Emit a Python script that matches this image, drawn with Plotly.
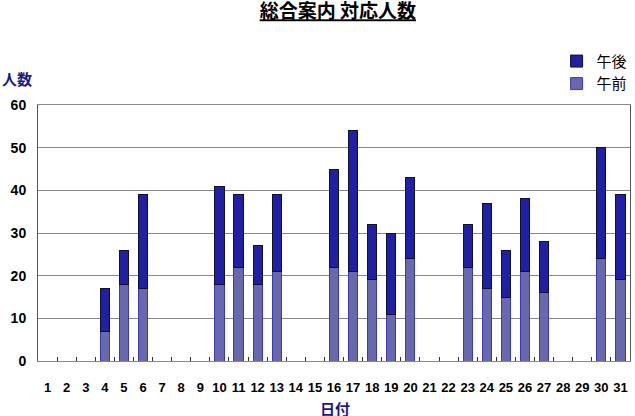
import plotly.graph_objects as go

days = [str(d) for d in range(1, 32)]
# 午前 (morning) and 午後 (afternoon) counts per day, 0 where no bar
am = [0, 0, 0, 7, 18, 17, 0, 0, 0, 18, 22, 18, 21, 0, 0, 22, 21, 19, 11, 24,
      0, 0, 22, 17, 15, 21, 16, 0, 0, 24, 19]
pm = [0, 0, 0, 10, 8, 22, 0, 0, 0, 23, 17, 9, 18, 0, 0, 23, 33, 13, 19, 19,
      0, 0, 10, 20, 11, 17, 12, 0, 0, 26, 20]

font_family = "Liberation Sans, Noto Sans CJK JP, sans-serif"
jp_font = "Noto Sans CJK JP"
navy = "#1a1a8c"

fig = go.Figure()
fig.add_trace(go.Bar(x=days, y=am, name="午前", legendgroup="am",
                     marker=dict(color="#6868ac", line=dict(color="#3a3ab8", width=1))))
fig.add_trace(go.Bar(x=days, y=pm, name="午後", legendgroup="pm",
                     marker=dict(color="#2020a4", line=dict(color="#101030", width=1))))

fig.update_layout(
    barmode="stack",
    bargap=0.52,
    width=635, height=416,
    margin=dict(l=38, r=2, t=105, b=55),
    plot_bgcolor="white",
    paper_bgcolor="white",
    font=dict(family=font_family, color="black"),
    title=dict(text="<b>総合案内 対応人数</b>", x=0.532, xanchor="center",
               y=0.972, yanchor="middle",
               font=dict(size=19, family=jp_font, lineposition="under")),
    legend=dict(traceorder="reversed", x=0.876, xanchor="left", y=1.235, yanchor="top",
                font=dict(size=15, family=jp_font),
                itemwidth=30, tracegroupgap=4, bgcolor="rgba(0,0,0,0)"),
    showlegend=True,
)

fig.update_xaxes(
    type="category",
    showline=True, linecolor="#888888", linewidth=1, mirror=True,
    ticks="inside", tickson="boundaries", ticklen=4, tickcolor="#333333",
    tickfont=dict(size=13, family=font_family, weight="bold"),
    tickangle=0, ticklabelstandoff=14,
    showgrid=False, automargin=False,
)
fig.update_yaxes(
    range=[0, 60], dtick=10,
    showline=True, linecolor="#555555", linewidth=1, mirror=True,
    showgrid=True, gridcolor="#888888", gridwidth=1,
    zeroline=False,
    tickfont=dict(size=14, family=font_family, weight="bold"),
    ticks="", ticklabelstandoff=8, automargin=False,
)

fig.add_annotation(text="<b>人数</b>", xref="paper", yref="paper", x=-0.064, y=1.105,
                   xanchor="left", yanchor="middle", showarrow=False,
                   font=dict(size=15, color=navy, family=jp_font))
fig.add_annotation(text="<b>日付</b>", xref="paper", yref="paper", x=0.5025, y=-0.185,
                   xanchor="center", yanchor="middle", showarrow=False,
                   font=dict(size=15, color=navy, family=jp_font))

# drop the default page margin so the figure sits at the window's corner
fig.write_html("out.html", config={"displayModeBar": False},
               post_script="document.body.style.margin='0';")
